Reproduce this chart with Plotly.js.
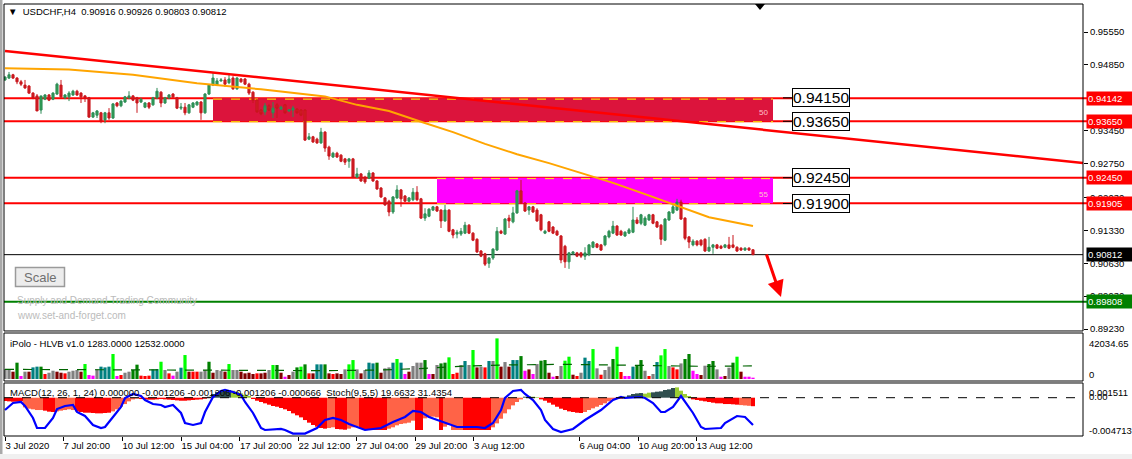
<!DOCTYPE html>
<html><head><meta charset="utf-8">
<script src="https://cdn.plot.ly/plotly-3.0.1.min.js"></script>
<style>html,body{margin:0;padding:0;background:#fff;overflow:hidden}#chart{width:1132px;height:459px}</style>
</head><body><div id="chart"></div>
<script>
const symbol = 'USDCHF,H4';
const open = [0.9453,0.9457,0.9464,0.9457,0.9449,0.9442,0.9440,0.9425,0.9419,0.9389,
0.9412,0.9421,0.9412,0.9423,0.9442,0.9415,0.9417,0.9421,0.9429,0.9425,
0.9419,0.9415,0.9374,0.9378,0.9383,0.9368,0.9383,0.9372,0.9404,0.9398,
0.9406,0.9415,0.9419,0.9415,0.9406,0.9395,0.9404,0.9400,0.9415,0.9427,
0.9404,0.9415,0.9423,0.9415,0.9393,0.9395,0.9383,0.9395,0.9400,0.9406,
0.9383,0.9423,0.9442,0.9442,0.9451,0.9453,0.9447,0.9457,0.9434,0.9455,
0.9455,0.9444,0.9427,0.9410,0.9389,0.9385,0.9398,0.9383,0.9400,0.9391,
0.9400,0.9387,0.9389,0.9391,0.9389,0.9389,0.9327,0.9332,0.9327,0.9319,
0.9342,0.9310,0.9289,0.9297,0.9293,0.9285,0.9280,0.9285,0.9246,0.9253,
0.9246,0.9244,0.9255,0.9238,0.9223,0.9202,0.9195,0.9172,0.9202,0.9219,
0.9206,0.9195,0.9198,0.9214,0.9200,0.9159,0.9163,0.9176,0.9183,0.9176,
0.9153,0.9176,0.9134,0.9125,0.9125,0.9127,0.9144,0.9127,0.9114,0.9089,
0.9083,0.9063,0.9074,0.9091,0.9131,0.9125,0.9159,0.9151,0.9170,0.9217,
0.9191,0.9176,0.9183,0.9176,0.9166,0.9127,0.9151,0.9140,0.9131,0.9121,
0.9099,0.9066,0.9083,0.9085,0.9085,0.9078,0.9081,0.9097,0.9104,0.9102,
0.9102,0.9119,0.9127,0.9142,0.9131,0.9121,0.9127,0.9129,0.9155,0.9148,
0.9144,0.9155,0.9166,0.9151,0.9144,0.9112,0.9155,0.9170,0.9176,0.9193,
0.9159,0.9119,0.9102,0.9110,0.9112,0.9114,0.9089,0.9097,0.9102,0.9099,
0.9097,0.9102,0.9102,0.9097,0.9095,0.9091,0.9095,0.90916];
const high = [0.9461,0.9470,0.9466,0.9459,0.9453,0.9453,0.9442,0.9427,0.9423,0.9419,
0.9423,0.9423,0.9427,0.9447,0.9453,0.9423,0.9429,0.9432,0.9432,0.9427,
0.9421,0.9417,0.9385,0.9389,0.9385,0.9385,0.9393,0.9404,0.9406,0.9410,
0.9419,0.9429,0.9421,0.9417,0.9415,0.9406,0.9406,0.9417,0.9436,0.9429,
0.9417,0.9423,0.9425,0.9417,0.9404,0.9404,0.9402,0.9406,0.9408,0.9408,
0.9425,0.9444,0.9468,0.9457,0.9457,0.9459,0.9466,0.9461,0.9459,0.9457,
0.9457,0.9447,0.9429,0.9412,0.9391,0.9404,0.9402,0.9406,0.9404,0.9398,
0.9402,0.9391,0.9398,0.9393,0.9391,0.9391,0.9340,0.9334,0.9330,0.9351,
0.9344,0.9313,0.9300,0.9300,0.9295,0.9287,0.9287,0.9287,0.9266,0.9255,
0.9249,0.9261,0.9257,0.9240,0.9225,0.9204,0.9198,0.9206,0.9229,0.9221,
0.9208,0.9204,0.9223,0.9227,0.9202,0.9180,0.9180,0.9185,0.9185,0.9178,
0.9187,0.9178,0.9136,0.9134,0.9138,0.9151,0.9146,0.9129,0.9116,0.9091,
0.9085,0.9076,0.9095,0.9140,0.9134,0.9159,0.9166,0.9183,0.9219,0.9240,
0.9193,0.9185,0.9185,0.9180,0.9168,0.9134,0.9153,0.9142,0.9134,0.9123,
0.9102,0.9087,0.9089,0.9087,0.9087,0.9097,0.9104,0.9110,0.9106,0.9104,
0.9123,0.9134,0.9153,0.9144,0.9134,0.9131,0.9138,0.9183,0.9161,0.9168,
0.9163,0.9168,0.9168,0.9153,0.9146,0.9159,0.9174,0.9187,0.9200,0.9198,
0.9161,0.9121,0.9114,0.9112,0.9114,0.9116,0.9119,0.9104,0.9104,0.9102,
0.9104,0.9119,0.9123,0.9099,0.9097,0.9097,0.9097,0.90926];
const low = [0.9451,0.9455,0.9455,0.9444,0.9440,0.9434,0.9423,0.9412,0.9387,0.9381,
0.9410,0.9408,0.9410,0.9421,0.9415,0.9412,0.9408,0.9419,0.9419,0.9404,
0.9406,0.9372,0.9372,0.9372,0.9361,0.9361,0.9368,0.9370,0.9395,0.9395,
0.9404,0.9412,0.9408,0.9383,0.9404,0.9393,0.9391,0.9398,0.9412,0.9395,
0.9402,0.9412,0.9415,0.9391,0.9389,0.9378,0.9381,0.9393,0.9398,0.9368,
0.9381,0.9421,0.9440,0.9440,0.9449,0.9438,0.9444,0.9432,0.9432,0.9447,
0.9442,0.9421,0.9404,0.9383,0.9378,0.9378,0.9387,0.9372,0.9372,0.9389,
0.9381,0.9385,0.9374,0.9381,0.9376,0.9323,0.9325,0.9319,0.9317,0.9317,
0.9300,0.9283,0.9287,0.9287,0.9278,0.9272,0.9266,0.9244,0.9244,0.9236,
0.9232,0.9242,0.9236,0.9219,0.9202,0.9185,0.9163,0.9168,0.9200,0.9183,
0.9193,0.9193,0.9195,0.9195,0.9157,0.9153,0.9161,0.9174,0.9172,0.9138,
0.9151,0.9129,0.9116,0.9116,0.9121,0.9125,0.9125,0.9110,0.9085,0.9076,
0.9057,0.9053,0.9070,0.9089,0.9125,0.9123,0.9138,0.9148,0.9168,0.9189,
0.9172,0.9166,0.9170,0.9151,0.9131,0.9125,0.9129,0.9125,0.9121,0.9063,
0.9053,0.9051,0.9081,0.9076,0.9074,0.9070,0.9078,0.9095,0.9095,0.9089,
0.9099,0.9116,0.9125,0.9121,0.9121,0.9119,0.9125,0.9127,0.9146,0.9144,
0.9142,0.9153,0.9146,0.9138,0.9102,0.9110,0.9153,0.9168,0.9174,0.9155,
0.9112,0.9095,0.9099,0.9099,0.9099,0.9087,0.9087,0.9083,0.9093,0.9093,
0.9095,0.9093,0.9095,0.9087,0.9089,0.9089,0.9089,0.90803];
const close = [0.9459,0.9464,0.9457,0.9449,0.9444,0.9436,0.9425,0.9415,0.9387,0.9419,
0.9421,0.9410,0.9425,0.9444,0.9417,0.9421,0.9425,0.9429,0.9421,0.9417,
0.9415,0.9374,0.9383,0.9387,0.9366,0.9383,0.9372,0.9402,0.9398,0.9408,
0.9417,0.9419,0.9410,0.9404,0.9412,0.9404,0.9395,0.9415,0.9429,0.9404,
0.9415,0.9421,0.9417,0.9393,0.9395,0.9383,0.9400,0.9404,0.9406,0.9383,
0.9423,0.9442,0.9457,0.9451,0.9453,0.9444,0.9455,0.9434,0.9457,0.9449,
0.9444,0.9425,0.9410,0.9385,0.9381,0.9398,0.9389,0.9393,0.9393,0.9395,
0.9383,0.9389,0.9393,0.9383,0.9378,0.9325,0.9332,0.9321,0.9319,0.9342,
0.9308,0.9291,0.9297,0.9289,0.9280,0.9278,0.9285,0.9246,0.9253,0.9238,
0.9236,0.9255,0.9238,0.9221,0.9204,0.9187,0.9172,0.9204,0.9219,0.9200,
0.9195,0.9202,0.9214,0.9198,0.9159,0.9168,0.9178,0.9183,0.9174,0.9153,
0.9176,0.9131,0.9123,0.9129,0.9131,0.9144,0.9127,0.9112,0.9087,0.9078,
0.9061,0.9074,0.9093,0.9131,0.9127,0.9157,0.9153,0.9170,0.9217,0.9191,
0.9174,0.9183,0.9172,0.9153,0.9134,0.9131,0.9131,0.9127,0.9123,0.9070,
0.9066,0.9085,0.9087,0.9078,0.9078,0.9085,0.9102,0.9108,0.9097,0.9091,
0.9121,0.9131,0.9142,0.9123,0.9123,0.9129,0.9134,0.9155,0.9148,0.9166,
0.9159,0.9166,0.9148,0.9140,0.9114,0.9157,0.9172,0.9183,0.9193,0.9157,
0.9116,0.9108,0.9110,0.9102,0.9102,0.9089,0.9097,0.9102,0.9095,0.9095,
0.9102,0.9095,0.9097,0.9089,0.9091,0.9095,0.9091,0.90812];

// moving average (read at sample bars)
const maBars = [0,16,32,48,64,80,88,96,104,112,120,128,136,144,152,160,168,176,187];
const maVals = [0.9478,0.9475,0.9464,0.9446,0.9433,0.9418,0.9400,0.9387,0.9364,0.9342,0.9317,0.9295,0.9276,0.9255,0.9234,0.9210,0.9185,0.9161,0.9142];
// descending trend line
const trendBars = [0, 269.5];
const trendVals = [0.95146, 0.92763];
// horizontal levels
const levels = [0.94142, 0.93650, 0.92450, 0.91905];
const levelBoxText = [0.94150, 0.93650, 0.92450, 0.91900];
const currentPrice = 0.90812;
const targetPrice = 0.89808;
// zones
const zoneNames = ['50', '55'];
const zoneFrom = [52, 108];
const zoneTo = [192, 192];
const zoneLow = [0.93650, 0.91905];
const zoneHigh = [0.94142, 0.92450];
// x-axis tick labels
const tickBars = [0, 14.5, 29.25, 44, 58.6, 73.25, 87.75, 102.5, 117.1, 143.5, 158.25, 172.75];
const tickLabels = ['3 Jul 2020','7 Jul 20:00','10 Jul 12:00','15 Jul 04:00','17 Jul 20:00','22 Jul 12:00','27 Jul 04:00','29 Jul 20:00','3 Aug 12:00','6 Aug 04:00','10 Aug 20:00','13 Aug 12:00'];
const priceTicks = [0.9555,0.9485,0.9345,0.9275,0.9203,0.9133,0.9063,0.8993,0.8923];

// volume (iPolo HLVB)
const vol = [9500,9200,7000,15600,2900,7000,7000,11100,11800,11800,
4800,6000,7900,7000,6000,5400,7000,7900,8600,7000,
14300,3800,3200,9500,11800,11100,11800,23900,2900,3800,
6000,7000,8600,13700,3200,2900,3200,9200,9500,16500,
8600,5400,3200,7000,10800,22900,7000,7000,7000,7000,
8600,16500,6000,8600,7900,7000,14300,8600,8600,7000,
5400,6000,4800,5400,5400,6000,8600,13400,13400,6000,
2200,3800,7000,11100,11800,14000,5400,5400,14000,14000,
14000,5400,4800,5400,4800,9200,14000,18100,9200,5400,
8600,15600,14900,15600,6000,10200,11100,15600,19100,15600,
4800,7000,12400,15600,15600,18100,4800,4800,13400,14900,
15600,20700,4800,6000,13400,17200,13400,27700,11100,11800,
11100,17200,17200,38800,11800,16200,11800,18100,18100,21900,
7900,9200,4800,14300,17500,18100,6000,2200,2900,12400,
17500,21300,4100,2900,6000,20400,17200,28600,10200,4100,
8600,11800,19100,30800,6700,2900,2900,11800,12400,18100,
7900,2900,4800,16200,22600,28600,12400,11100,9200,14900,
19100,23900,7900,4800,3800,12700,14300,17200,9200,2200,
2900,10800,15600,21300,7000,2200,2200,1283];
const volClass = ['gy','gy','mr','dg','mg','gy','mr','tl','tl','dg',
'rd','gy','gy','mr','mr','rd','gy','gy','gy','mr',
'lm','mg','mg','gy','tl','tl','tl','lm','mg','rd',
'gy','gy','dg','dg','rd','rd','rd','tl','tl','lm',
'gy','rd','mg','gy','tl','lm','mr','rd','rd','gy',
'gy','dg','mr','gy','gy','mr','lm','gy','gy','mr',
'mr','mr','mr','rd','mr','mr','gy','lm','dg','mr',
'mg','mr','gy','dg','lm','dg','rd','mr','tl','tl',
'dg','mr','rd','mr','mr','gy','lm','lm','gy','mr',
'gy','tl','tl','dg','mr','gy','gy','tl','lm','tl',
'mg','mr','gy','gy','gy','dg','mg','mr','gy','dg',
'dg','lm','rd','rd','gy','tl','gy','lm','mr','gy',
'rd','tl','gy','lm','mr','gy','mr','tl','tl','dg',
'mg','mr','mg','gy','dg','dg','mr','mg','mr','gy',
'lm','lm','mr','rd','gy','tl','tl','lm','gy','rd',
'gy','gy','dg','lm','rd','mg','mg','tl','dg','dg',
'gy','rd','gy','tl','lm','lm','gy','rd','rd','gy',
'dg','dg','mg','mg','mr','gy','dg','dg','gy','mg',
'mr','gy','dg','lm','mr','mg','mg','mg'];
const volAvgBars = [0,30,60,80,94,105,115,125,140,150,160,175,187];
const volAvg = [9200,8600,7900,8000,8600,10200,12400,13400,14000,13400,12700,12100,12532];
const volMax = 42034.65;

// MACD histogram
const macd = [-0.00047,-0.00052,-0.00057,-0.00057,-0.00052,-0.00137,-0.00156,-0.00165,-0.00175,-0.00175,
-0.00184,-0.00198,-0.00203,-0.00194,-0.00184,-0.00175,-0.00165,-0.00175,-0.00194,-0.00203,
-0.00213,-0.00213,-0.00217,-0.00222,-0.00222,-0.00217,-0.00213,-0.00194,-0.00165,-0.00128,
-0.00090,-0.00052,-0.00024,-0.00014,-0.00019,-0.00024,-0.00028,-0.00028,-0.00024,-0.00019,
-0.00024,-0.00028,-0.00033,-0.00038,-0.00043,-0.00043,-0.00038,-0.00033,-0.00028,-0.00024,
-0.00014,0.00014,0.00052,0.00080,0.00099,0.00109,0.00109,0.00099,0.00085,0.00061,
0.00043,0.00024,-0.00019,-0.00043,-0.00061,-0.00080,-0.00099,-0.00118,-0.00128,-0.00146,
-0.00165,-0.00189,-0.00222,-0.00250,-0.00279,-0.00317,-0.00354,-0.00387,-0.00411,-0.00430,
-0.00439,-0.00430,-0.00420,-0.00444,-0.00449,-0.00454,-0.00439,-0.00420,-0.00411,-0.00435,
-0.00449,-0.00458,-0.00458,-0.00458,-0.00458,-0.00458,-0.00439,-0.00420,-0.00392,-0.00373,
-0.00364,-0.00354,-0.00326,-0.00458,-0.00458,-0.00293,-0.00279,-0.00269,-0.00279,-0.00458,
-0.00411,-0.00387,-0.00458,-0.00458,-0.00458,-0.00458,-0.00458,-0.00458,-0.00458,-0.00458,
-0.00458,-0.00458,-0.00420,-0.00364,-0.00298,-0.00222,-0.00165,-0.00109,-0.00061,-0.00024,
0.00014,0.00019,0.00014,0.00009,-0.00024,-0.00043,-0.00071,-0.00099,-0.00128,-0.00156,
-0.00175,-0.00194,-0.00203,-0.00213,-0.00217,-0.00203,-0.00175,-0.00151,-0.00128,-0.00104,
-0.00080,-0.00052,-0.00028,-0.00019,-0.00014,0.00014,0.00033,0.00052,0.00061,0.00066,
0.00057,0.00071,0.00076,0.00085,0.00090,0.00109,0.00118,0.00137,0.00146,0.00099,
0.00052,0.00024,-0.00024,-0.00033,-0.00043,-0.00052,-0.00061,-0.00071,-0.00080,-0.00080,
-0.00090,-0.00090,-0.00094,-0.00099,-0.00105,-0.00110,-0.00115,-0.001206];
const macdClass = ['r','r','r','r','r','s','s','s','s','s',
'r','r','r','s','s','s','s','s','r','r',
'r','r','r','r','r','r','r','s','s','s',
's','s','s','s','r','r','r','r','r','r',
'r','r','r','r','r','r','r','r','r','r',
'r','d','d','d','d','d','d','g','g','g',
'g','g','r','r','r','r','r','r','r','r',
'r','r','r','r','r','r','r','r','r','r',
'r','s','s','r','r','r','s','s','s','r',
'r','r','r','r','r','r','s','s','s','s',
's','s','s','r','r','s','s','s','s','r',
's','s','s','s','s','r','r','r','r','r',
'r','r','s','s','s','s','s','s','s','s',
'd','d','g','g','r','r','r','r','r','r',
'r','r','r','r','r','s','s','s','s','s',
's','s','s','r','r','d','d','d','d','d',
'g','g','d','d','d','d','d','d','g','g',
'g','g','r','r','r','r','r','r','r','r',
'r','r','r','r','s','s','s','r'];
const macdHeader = ['0.000000','-0.001206','-0.001206','-0.001206','-0.000666'];
const macdAxisTop = 0.001511, macdAxisBottom = -0.004713;
// Stochastic main line (read at sample bars)
const stochBars = [0,2,4,5,7,8,10,12,13,15,17,18,20,22,24,25,27,29,30,32,34,35,37,39,40,42,44,45,47,49,50,52,54,55,57,59,60,62,64,65,69,70,72,75,78,80,82,84,86,88,90,92,94,97,100,102,104,106,109,110,113,115,118,120,122,124,125,127,129,130,132,134,135,137,139,142,145,149,152,154,155,159,160,162,164,165,167,169,170,172,174,175,179,180,183,185,187];
const stochVals = [52.2,67.4,69.6,60.9,34.8,13,13,34.8,54.3,60.9,63,47.8,39.1,19.6,13,15.2,37,58.7,78.3,87,82.6,73.9,65.2,63,58.7,63,45.7,23.9,19.6,23.9,47.8,80.4,93.5,95.7,91.3,84.8,69.6,45.7,13,8.7,10.9,8.7,1,1,13,30.4,34.8,30.4,21.7,15.2,8.7,10.9,13,26.1,37,50,47.8,37,28.3,23.9,15.2,15.2,15.2,13,23.9,52.2,78.3,93.5,95.7,87,73.9,52.2,30.4,10.9,4.3,10.9,30.4,52.2,73.9,80.4,78.3,80.4,78.3,67.4,47.8,47.8,58.7,82.6,69.6,45.7,15.2,10.9,13,23.9,39.1,37,19.6632];
const stochSignal = 31.4354;

// ---------- layout helpers (pixel -> paper) ----------
const F = 'Liberation Sans, Arial, sans-serif';
const px = x => (x - 4) / 1079;
const py = y => (436 - y) / 432;
const bars = close.map((_, i) => i);
const volColors = {gy:'#808080', tl:'#008080', dg:'#008000', lm:'#00FF00', rd:'#FF0000', mg:'#FF00FF', mr:'#800000'};
const macdColors = {r:'#FF0000', s:'#FF6347', d:'#2F4F4F', g:'#9ACD32'};
const fmt5 = v => v.toFixed(5);

const traces = [
  {type:'candlestick', x:bars, open, high, low, close, xaxis:'x', yaxis:'y',
   increasing:{line:{color:'#2E8B57', width:1}, fillcolor:'#2FA052'},
   decreasing:{line:{color:'#C8161C', width:1}, fillcolor:'#D01F26'},
   whiskerwidth:0, hoverinfo:'skip', showlegend:false},
  {type:'scatter', mode:'lines', x:maBars, y:maVals, line:{color:'#FFA500', width:2}, hoverinfo:'skip', showlegend:false},
  {type:'scatter', mode:'lines', x:trendBars, y:trendVals, line:{color:'#FF0000', width:2.5}, hoverinfo:'skip', showlegend:false},
  {type:'bar', x:bars, y:vol, yaxis:'y2', width:0.8, marker:{color:volClass.map(c => volColors[c]), line:{width:0}}, hoverinfo:'skip', showlegend:false},
  {type:'scatter', mode:'lines', x:volAvgBars, y:volAvg, yaxis:'y2', line:{color:'#006400', width:1.2, dash:'dash'}, hoverinfo:'skip', showlegend:false},
  {type:'bar', x:bars, y:macd, yaxis:'y3', width:1, marker:{color:macdClass.map(c => macdColors[c]), line:{width:0}}, hoverinfo:'skip', showlegend:false},
  {type:'scatter', mode:'lines', x:stochBars, y:stochVals, yaxis:'y4', line:{color:'#0000FF', width:2.2}, hoverinfo:'skip', showlegend:false}
];

const shapes = [];
// panel borders
['y','y2','y3'].forEach(a => shapes.push({type:'rect', xref:'paper', yref:a+' domain', x0:0, x1:1, y0:0, y1:1, line:{color:'#000', width:1}, layer:'above'}));
// window frame
shapes.push({type:'rect', xref:'paper', yref:'paper', x0:px(0), x1:px(2.5), y0:py(459), y1:py(0), fillcolor:'#A9A9A9', line:{width:0}});
shapes.push({type:'rect', xref:'paper', yref:'paper', x0:px(0), x1:px(1132), y0:py(459), y1:py(454), fillcolor:'#F0F0F0', line:{width:0}});
// zones
zoneFrom.forEach((f, k) => {
  shapes.push({type:'rect', xref:'x', yref:'y', x0:f, x1:zoneTo[k], y0:zoneLow[k], y1:zoneHigh[k], fillcolor: k===0 ? '#DC143C' : '#FF00FF', line:{width:0}, layer:'below'});
});
// red levels
levels.forEach(v => shapes.push({type:'line', xref:'paper', yref:'y', x0:0, x1:px(1087), y0:v, y1:v, line:{color:'#FF0000', width:2}, layer:'below'}));
// yellow dashed zone borders
zoneFrom.forEach((f, k) => {
  [zoneHigh[k] - 0.0002, zoneLow[k] - 0.0001].forEach(v => shapes.push({type:'line', xref:'x', yref:'y', x0:f, x1:zoneTo[k], y0:v, y1:v, line:{color:'#FFFF00', width:1, dash:'dash'}, layer:'below'}));
});
// current price and target
shapes.push({type:'line', xref:'paper', yref:'y', x0:0, x1:1, y0:currentPrice, y1:currentPrice, line:{color:'#000', width:1}, layer:'below'});
shapes.push({type:'line', xref:'paper', yref:'y', x0:0, x1:px(1087), y0:targetPrice, y1:targetPrice, line:{color:'#008000', width:2}, layer:'below'});
// connector lines to level boxes
levelBoxText.forEach(v => shapes.push({type:'line', xref:'x', yref:'y', x0:194.5, x1:196.75, y0:v, y1:v, line:{color:'#000', width:1}}));
// MACD zero line
shapes.push({type:'line', xref:'paper', yref:'y3', x0:0, x1:1, y0:0, y1:0, line:{color:'#000', width:1, dash:'dash'}});
// shift marker
shapes.push({type:'path', xref:'paper', yref:'paper', path:`M ${px(755)},${py(4)} L ${px(765)},${py(4)} L ${px(760)},${py(10)} Z`, fillcolor:'#000', line:{width:0}});
// Scale button
shapes.push({type:'rect', xref:'paper', yref:'paper', x0:px(15.5), x1:px(64.5), y0:py(286.5), y1:py(267.5), fillcolor:'#ECECEC', line:{color:'#9A9A9A', width:1.5}});

const ann = [];
const sp = '\u00a0';
ann.push({xref:'paper', yref:'paper', x:px(6), y:py(12), xanchor:'left', yanchor:'middle', showarrow:false,
  text:`▼${sp}${sp}${symbol}${sp}${sp}${fmt5(open.at(-1))} ${fmt5(high.at(-1))} ${fmt5(low.at(-1))} ${fmt5(close.at(-1))}`,
  font:{family:F, size:9.5, color:'#000'}});
ann.push({xref:'paper', yref:'paper', x:px(8), y:py(343), xanchor:'left', yanchor:'middle', showarrow:false,
  text:`iPolo - HLVB v1.0 ${vol.at(-1).toFixed(4)} ${volAvg.at(-1).toFixed(4)}`, font:{family:F, size:9.5, color:'#000'}});
ann.push({xref:'paper', yref:'paper', x:px(8), y:py(392), xanchor:'left', yanchor:'middle', showarrow:false,
  text:`MACD(12, 26, 1, 24) ${macdHeader.join(' ')}${sp}${sp}Stoch(9,5,5) ${stochVals.at(-1).toFixed(4)} ${stochSignal.toFixed(4)}`, font:{family:F, size:9.5, color:'#000'}});
// level boxes
levelBoxText.forEach(v => ann.push({xref:'x', yref:'y', x:196.75, y:v, xanchor:'left', yanchor:'middle', showarrow:false,
  text:fmt5(v), font:{family:F, size:15.5, color:'#000'}, bgcolor:'#FFFFFF', bordercolor:'#000', borderwidth:1, borderpad:0}));
// zone labels
zoneFrom.forEach((f, k) => ann.push({xref:'x', yref:'y', x:189.5, y:zoneLow[k], xanchor:'center', yanchor:'bottom', yshift:2, showarrow:false,
  text:zoneNames[k], font:{family:F, size:8, color:'#FFC0CB'}}));
// right axis price labels
const rightLabels = [[levels[0],'#FF0000'],[levels[1],'#FF0000'],[levels[2],'#FF0000'],[levels[3],'#FF0000'],[currentPrice,'#000000'],[targetPrice,'#008000']];
rightLabels.forEach(([v,c]) => ann.push({xref:'paper', yref:'y', x:px(1086), y:v, xanchor:'left', yanchor:'middle', showarrow:false,
  text:fmt5(v), font:{family:F, size:9.5, color:'#FFFFFF'}, bgcolor:c, borderpad:1, width:44, align:'left'}));
// indicator axis labels
[[py(343), volMax.toFixed(2)], [py(374), '0'], [py(392), macdAxisTop.toFixed(6)], [py(396), '0.00'], [py(430), macdAxisBottom.toFixed(6)]].forEach(([y,t]) =>
  ann.push({xref:'paper', yref:'paper', x:px(1087), y, xanchor:'left', yanchor:'middle', showarrow:false, text:t, font:{family:F, size:9.5, color:'#000'}}));
// Scale button text and watermark
ann.push({xref:'paper', yref:'paper', x:px(40), y:py(277), xanchor:'center', yanchor:'middle', showarrow:false, text:'Scale', font:{family:F, size:13, color:'#707070'}});
ann.push({xref:'paper', yref:'paper', x:px(15), y:py(300), xanchor:'left', yanchor:'middle', showarrow:false, text:'Supply and Demand Trading Community', font:{family:F, size:10, color:'#BBBBBB'}});
ann.push({xref:'paper', yref:'paper', x:px(15), y:py(315), xanchor:'left', yanchor:'middle', showarrow:false, text:'www.set-and-forget.com', font:{family:F, size:10, color:'#BBBBBB'}});
// red arrow
ann.push({xref:'x', yref:'y', x:194, y:0.89912, ax:-15, ay:-44, showarrow:true, arrowhead:2, arrowsize:1.1, arrowwidth:3, arrowcolor:'#FF0000', text:''});

const layout = {
  width:1132, height:459, margin:{l:4, r:49, t:4, b:23},
  paper_bgcolor:'#FFFFFF', plot_bgcolor:'#FFFFFF', showlegend:false, hovermode:false,
  barmode:'overlay', boxgap:0.25,
  xaxis:{anchor:'y3', range:[-0.25, 269.5], tickvals:tickBars, ticktext:tickLabels, ticks:'outside', ticklen:4, tickcolor:'#000',
    tickangle:0, autotickangles:[0], ticklabelposition:'outside right', ticklabelstandoff:1,
    tickfont:{family:F, size:9.5, color:'#000'}, showgrid:false, zeroline:false, showline:false,
    rangeslider:{visible:false}, fixedrange:true},
  yaxis:{domain:[0.2431, 1], range:[0.89188, 0.96146], side:'right', anchor:'x', tickvals:priceTicks, ticktext:priceTicks.map(fmt5),
    ticks:'outside', ticklen:4, tickcolor:'#000', tickfont:{family:F, size:9.5, color:'#000'}, showgrid:false, zeroline:false, fixedrange:true},
  yaxis2:{domain:[0.1273, 0.2384], range:[-1910, 43930], anchor:'x', side:'right', showticklabels:false, ticks:'', showgrid:false, zeroline:false, fixedrange:true},
  yaxis3:{domain:[0, 0.1227], range:[-0.00543, 0.002083], anchor:'x', side:'right', showticklabels:false, ticks:'', showgrid:false, zeroline:false, fixedrange:true},
  yaxis4:{overlaying:'y3', range:[-4.35, 110.87], visible:false, fixedrange:true},
  shapes, annotations:ann
};
Plotly.newPlot('chart', traces, layout, {staticPlot:true, displayModeBar:false});
</script>
</body></html>
